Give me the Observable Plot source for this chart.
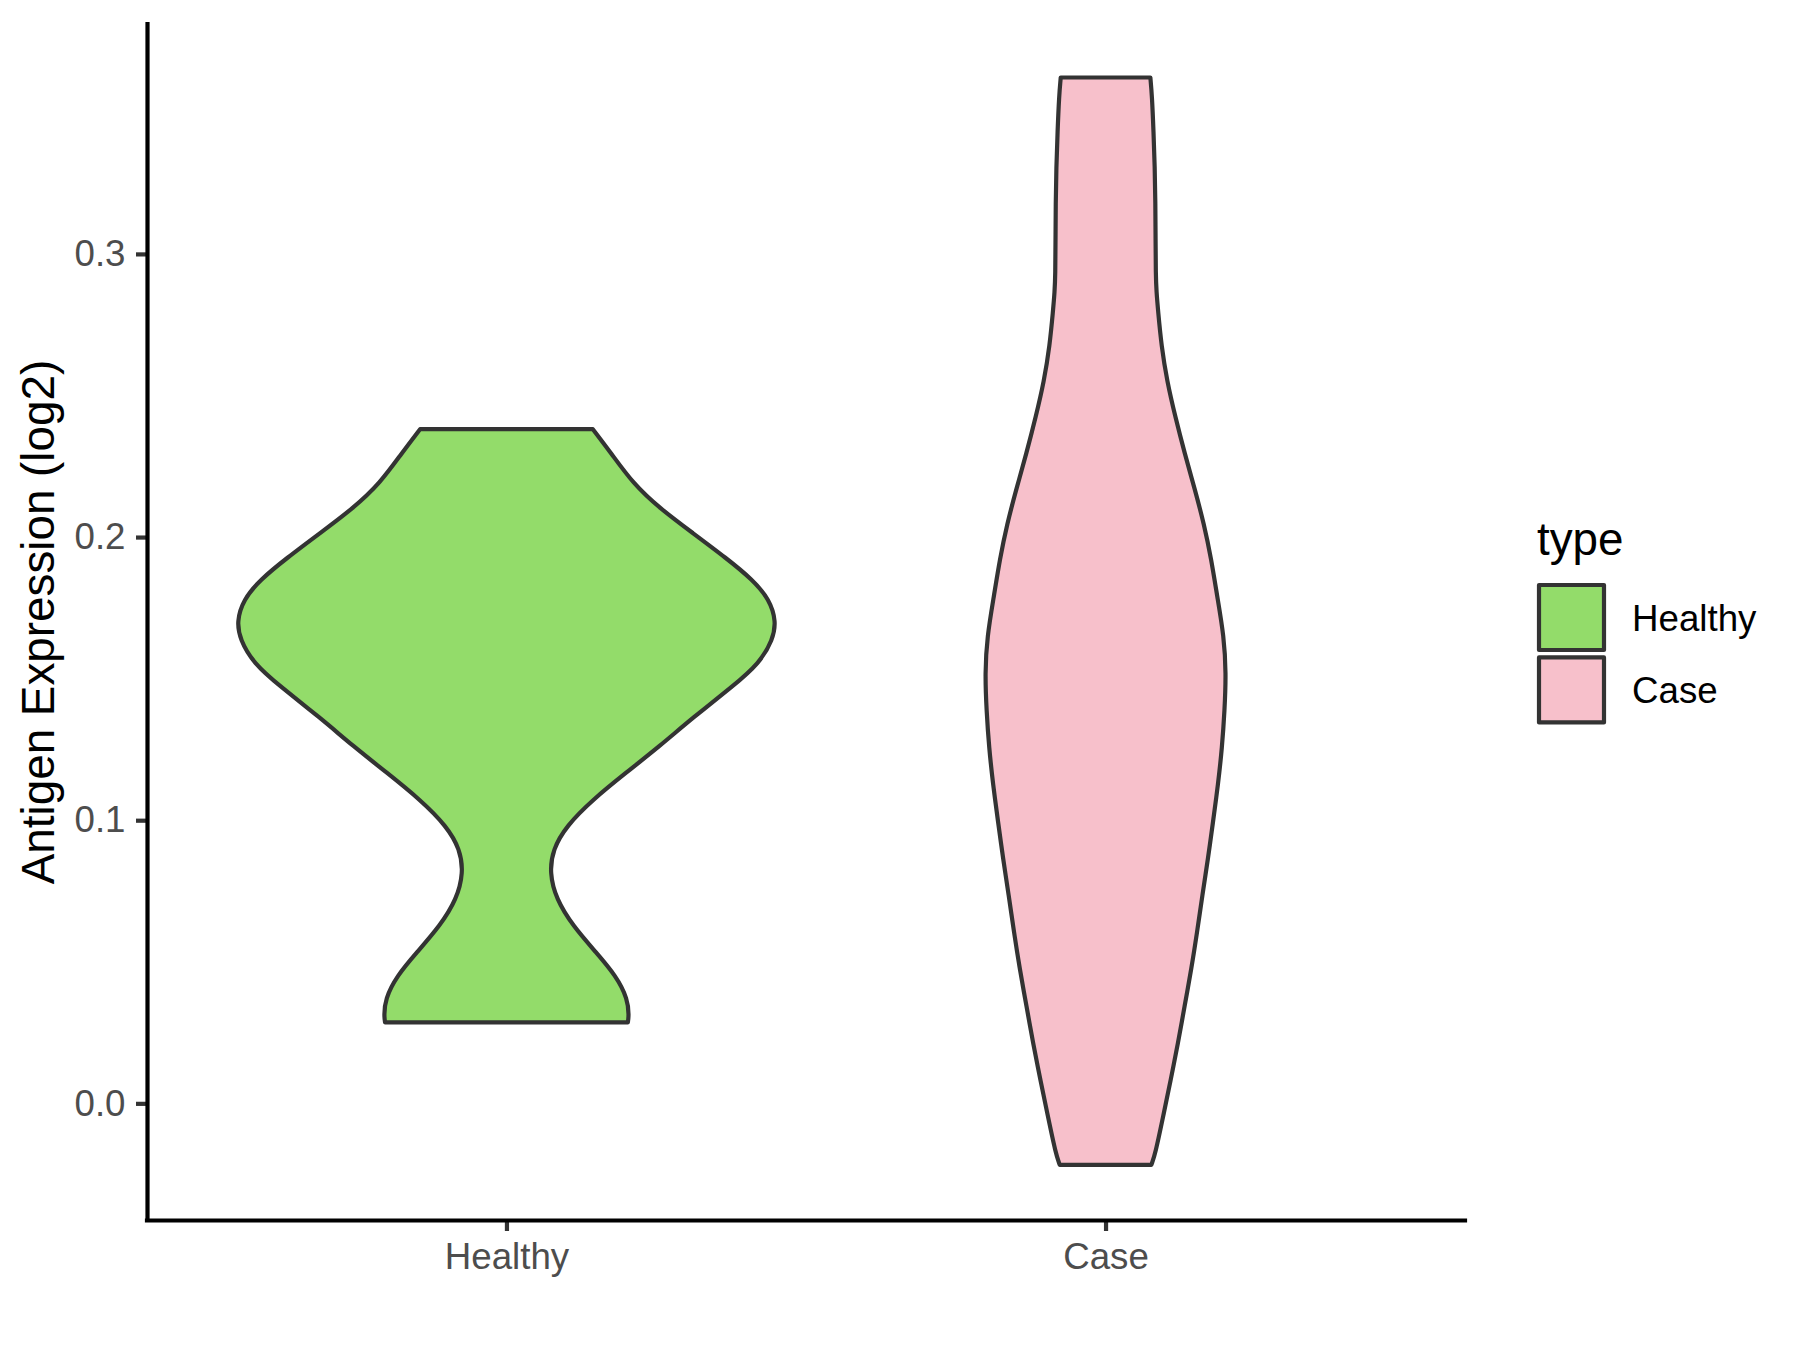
<!DOCTYPE html>
<html>
<head>
<meta charset="utf-8">
<script src="https://cdn.jsdelivr.net/npm/d3@7"></script>
<script src="https://cdn.jsdelivr.net/npm/@observablehq/plot@0.6"></script>
<style>
  html, body { margin: 0; padding: 0; background: #ffffff; }
  #chart { position: relative; width: 1800px; height: 1350px; }
</style>
</head>
<body>
<div id="chart"></div>
<script>
// ---- data ----
const categories = ["Healthy", "Case"];
const categoryPos = [1, 2];
const fillColors = ["#93DC6A", "#F7C0CB"];
const yTicks = [0, 0.1, 0.2, 0.3];
const yDomain = [-0.0412, 0.3812];
const xDomain = [0.4, 2.6];
const yLabel = "Antigen Expression (log2)";
const legendTitle = "type";

// violin outline: value (y) and half width (in category units)
const healthyY = [0.0286, 0.0309, 0.0368, 0.0450, 0.0533, 0.0627, 0.0721, 0.0815, 0.0897, 0.0979,
                  0.1073, 0.1168, 0.1261, 0.1362, 0.1473, 0.1555, 0.1638, 0.1702, 0.1779, 0.1849,
                  0.1926, 0.2014, 0.2102, 0.2190, 0.2296, 0.2381];
const healthyHalfWidth = [0.2026, 0.2043, 0.2026, 0.1831, 0.1497, 0.1108, 0.0830, 0.0719, 0.0775, 0.0997,
                          0.1442, 0.1998, 0.2555, 0.3111, 0.3779, 0.4225, 0.4447, 0.4502, 0.4392, 0.4113,
                          0.3667, 0.3111, 0.2555, 0.2110, 0.1748, 0.1442];

const caseY = [-0.0217, -0.0178, -0.0048, 0.0082, 0.0213, 0.0343, 0.0474, 0.0604, 0.0735, 0.0865,
               0.0996, 0.1126, 0.1257, 0.1387, 0.1518, 0.1648, 0.1794, 0.1920, 0.2046, 0.2172,
               0.2297, 0.2424, 0.2550, 0.2676, 0.2801, 0.2865, 0.2927, 0.3053, 0.3179, 0.3305,
               0.3431, 0.3557, 0.3623];
const caseHalfWidth = [0.0765, 0.0831, 0.0960, 0.1087, 0.1210, 0.1319, 0.1432, 0.1528, 0.1616, 0.1711,
                       0.1795, 0.1878, 0.1945, 0.1987, 0.2012, 0.1978, 0.1861, 0.1766, 0.1644, 0.1486,
                       0.1319, 0.1165, 0.1027, 0.0932, 0.0876, 0.0850, 0.0838, 0.0835, 0.0832, 0.0822,
                       0.0801, 0.0776, 0.0748];

// ---- build tables ----
function violinTable(pos, ys, hws) {
  return ys.map((v, i) => ({v, x1: pos - hws[i], x2: pos + hws[i]}));
}
const healthyData = violinTable(categoryPos[0], healthyY, healthyHalfWidth);
const caseData = violinTable(categoryPos[1], caseY, caseHalfWidth);

const outline = "#333333";
const font = "'Liberation Sans', Arial, sans-serif";
const lw = 4.2;

const plot = Plot.plot({
  width: 1800,
  height: 1350,
  marginLeft: 147,
  marginRight: 335,
  marginTop: 24,
  marginBottom: 130,
  style: {fontFamily: font, background: "white", overflow: "visible"},
  x: {type: "linear", domain: xDomain},
  y: {type: "linear", domain: yDomain},
  marks: [
    Plot.areaX(healthyData, {y: "v", x1: "x1", x2: "x2", fill: fillColors[0], stroke: outline, strokeWidth: lw, strokeLinejoin: "round", curve: "basis"}),
    Plot.areaX(caseData, {y: "v", x1: "x1", x2: "x2", fill: fillColors[1], stroke: outline, strokeWidth: lw, strokeLinejoin: "round", curve: "basis"}),
    Plot.axisY({ticks: yTicks, tickFormat: d3.format(".1f"), tickSize: 11, tickPadding: 11, fontSize: 36.7,
                stroke: outline, fill: "#4D4D4D", strokeWidth: lw, label: null}),
    Plot.axisX({ticks: categoryPos, tickFormat: d => categories[d - 1], tickSize: 11, tickPadding: 11, fontSize: 36.7,
                stroke: outline, fill: "#4D4D4D", strokeWidth: lw, label: null}),
    Plot.ruleX([xDomain[0]], {stroke: "black", strokeWidth: lw, strokeLinecap: "square"}),
    Plot.ruleY([yDomain[0]], {stroke: "black", strokeWidth: lw, strokeLinecap: "square"})
  ]
});

document.getElementById("chart").appendChild(plot);

const svg = d3.select(plot);

// y-axis title
svg.append("text")
  .attr("transform", "translate(54,622) rotate(-90)")
  .attr("text-anchor", "middle")
  .attr("font-family", font)
  .attr("font-size", 45.8)
  .attr("fill", "black")
  .text(yLabel);

// legend
const lg = svg.append("g").attr("font-family", font).attr("text-anchor", "start");
lg.append("text")
  .attr("x", 1537).attr("y", 555)
  .attr("text-anchor", "start")
  .attr("font-size", 45.8).attr("fill", "black")
  .text(legendTitle);
categories.forEach((c, i) => {
  const top = 585 + i * 72.4;
  lg.append("rect")
    .attr("x", 1539).attr("y", top)
    .attr("width", 65).attr("height", 65)
    .attr("fill", fillColors[i])
    .attr("stroke", outline).attr("stroke-width", lw)
    .attr("stroke-linejoin", "round");
  lg.append("text")
    .attr("x", 1632).attr("y", top + 45.5)
    .attr("text-anchor", "start")
    .attr("font-size", 36.7).attr("fill", "black")
    .text(c);
});
</script>
</body>
</html>
